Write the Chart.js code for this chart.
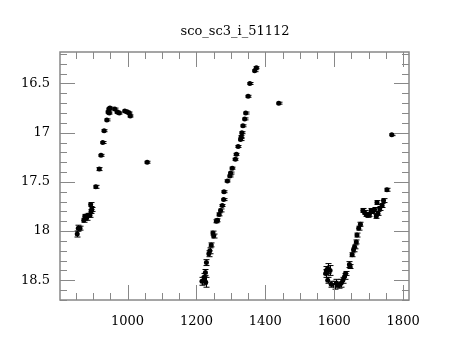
<!DOCTYPE html>
<html lang="en">
<head>
    <meta charset="UTF-8">
    <title>sco_sc3_i_51112</title>
    <script src="https://cdn.jsdelivr.net/npm/chart.js@4.4.1/dist/chart.umd.min.js"></script>
    <style>
        body { margin: 0; background: #fff; }
    </style>
</head>
<body>
    <canvas id="lc" width="460" height="340"></canvas>
    <script>
        // light curve: date, magnitude, error
        const jd = [854, 857, 862, 873, 876, 881, 886, 891, 894, 896, 893, 908, 918, 923, 928, 932, 940, 944, 946, 949, 947, 963, 970, 976, 992, 999, 1005, 1008, 1057,
            1216, 1221, 1223, 1226, 1227, 1229, 1236, 1239, 1243, 1248, 1250, 1258, 1261, 1266, 1270, 1275, 1279, 1280, 1290, 1297, 1299, 1304, 1313, 1316, 1321, 1328, 1330, 1332, 1335, 1340, 1343, 1350, 1355, 1369, 1374, 1439,
            1575, 1577, 1581, 1581, 1588, 1591, 1601, 1606, 1613, 1620, 1625, 1630, 1633, 1644, 1646, 1652, 1656, 1659, 1664, 1666, 1671, 1676, 1683, 1688, 1693, 1697, 1702, 1707, 1712, 1717, 1722, 1724, 1727, 1732, 1739, 1743, 1753, 1767];
        const mag = [18.03, 17.97, 17.97, 17.89, 17.85, 17.87, 17.84, 17.84, 17.80, 17.78, 17.73, 17.55, 17.37, 17.23, 17.10, 16.98, 16.87, 16.79, 16.76, 16.75, 16.80, 16.76, 16.79, 16.80, 16.78, 16.79, 16.80, 16.83, 17.30,
            18.51, 18.50, 18.47, 18.42, 18.52, 18.32, 18.23, 18.20, 18.14, 18.02, 18.05, 17.90, 17.89, 17.83, 17.79, 17.74, 17.68, 17.60, 17.49, 17.44, 17.41, 17.36, 17.27, 17.22, 17.14, 17.07, 17.04, 17.00, 16.93, 16.86, 16.80, 16.63, 16.50, 16.37, 16.34, 16.70,
            18.43, 18.40, 18.38, 18.50, 18.40, 18.54, 18.55, 18.53, 18.55, 18.53, 18.50, 18.46, 18.43, 18.34, 18.36, 18.24, 18.19, 18.16, 18.11, 18.04, 17.97, 17.93, 17.79, 17.81, 17.83, 17.84, 17.83, 17.79, 17.80, 17.78, 17.85, 17.71, 17.82, 17.77, 17.74, 17.69, 17.58, 17.02];
        const err = [0.03, 0.03, 0.02, 0.02, 0.02, 0.02, 0.02, 0.02, 0.02, 0.02, 0.02, 0.015, 0.015, 0.01, 0.01, 0.01, 0.01, 0.01, 0.01, 0.01, 0.01, 0.01, 0.01, 0.01, 0.01, 0.01, 0.01, 0.01, 0.01,
            0.04, 0.04, 0.04, 0.03, 0.05, 0.03, 0.03, 0.03, 0.02, 0.02, 0.02, 0.015, 0.015, 0.015, 0.015, 0.01, 0.01, 0.01, 0.01, 0.01, 0.01, 0.01, 0.01, 0.01, 0.01, 0.01, 0.01, 0.01, 0.01, 0.01, 0.01, 0.01, 0.01, 0.01, 0.01, 0.01,
            0.04, 0.04, 0.05, 0.03, 0.05, 0.03, 0.04, 0.04, 0.03, 0.04, 0.03, 0.03, 0.02, 0.03, 0.02, 0.02, 0.02, 0.02, 0.02, 0.02, 0.02, 0.02, 0.02, 0.02, 0.02, 0.02, 0.02, 0.02, 0.02, 0.02, 0.02, 0.02, 0.02, 0.02, 0.02, 0.02, 0.015, 0.01];

        const xTicks = [1000, 1200, 1400, 1600, 1800];
        const yTicks = [16.5, 17, 17.5, 18, 18.5];
        const title = 'sco_sc3_i_51112';

        const points = jd.map((x, i) => ({ x: x, y: mag[i], e: err[i] }));
        const serif = "'DejaVu Serif', 'Liberation Serif', serif";

        // error bars, title and inward tick frame, drawn through the chart scales
        const frame = {
            id: 'frame',
            beforeDatasetsDraw(chart) {
                const c = chart.ctx, xs = chart.scales.x, ys = chart.scales.y;
                c.save();
                c.strokeStyle = '#000';
                c.lineWidth = 1;
                points.forEach(p => {
                    const px = Math.round(xs.getPixelForValue(p.x)) + 0.5;
                    const y1 = ys.getPixelForValue(p.y - p.e);
                    const y2 = ys.getPixelForValue(p.y + p.e);
                    c.beginPath();
                    c.moveTo(px, y1); c.lineTo(px, y2);
                    c.moveTo(px - 3, y1); c.lineTo(px + 3, y1);
                    c.moveTo(px - 3, y2); c.lineTo(px + 3, y2);
                    c.stroke();
                });
                c.restore();
            },
            afterDraw(chart) {
                const c = chart.ctx, a = chart.chartArea, xs = chart.scales.x, ys = chart.scales.y;
                c.save();
                c.fillStyle = '#000';
                c.font = '13px ' + serif;
                c.textAlign = 'center';
                c.textBaseline = 'middle';
                c.fillText(title, 235, 32);

                c.strokeStyle = '#888';
                c.lineWidth = 1.5;
                c.strokeRect(a.left, a.top, a.right - a.left, a.bottom - a.top);
                c.lineWidth = 1;
                c.beginPath();
                for (let v = 850; v <= 1800; v += 50) {
                    const px = Math.round(xs.getPixelForValue(v)) + 0.5;
                    const len = v % 200 === 0 ? 15 : 7;
                    c.moveTo(px, a.bottom); c.lineTo(px, a.bottom - len);
                    c.moveTo(px, a.top); c.lineTo(px, a.top + len);
                }
                for (let k = 162; k <= 187; k++) {
                    const v = k / 10;
                    const py = Math.round(ys.getPixelForValue(v)) + 0.5;
                    const len = k % 5 === 0 ? 15 : 7;
                    c.moveTo(a.left, py); c.lineTo(a.left + len, py);
                    c.moveTo(a.right, py); c.lineTo(a.right - len, py);
                }
                c.stroke();
                c.restore();
            }
        };

        new Chart(document.getElementById('lc'), {
            type: 'scatter',
            data: {
                datasets: [{
                    data: points,
                    backgroundColor: '#000',
                    borderColor: '#000',
                    borderWidth: 0,
                    pointRadius: 2.5,
                    pointHoverRadius: 2.5
                }]
            },
            options: {
                responsive: false,
                animation: false,
                layout: { padding: { left: 0, right: 51, top: 52, bottom: 0 } },
                plugins: {
                    legend: { display: false },
                    tooltip: { enabled: false },
                    title: { display: false }
                },
                scales: {
                    x: {
                        type: 'linear',
                        min: 804,
                        max: 1817,
                        grid: { display: false, drawTicks: false },
                        border: { display: false },
                        afterBuildTicks: s => { s.ticks = xTicks.map(v => ({ value: v })); },
                        afterFit: s => { s.height = 40; },
                        ticks: {
                            color: '#000',
                            padding: 14,
                            maxRotation: 0,
                            font: { family: serif, size: 13 },
                            callback: v => String(v)
                        }
                    },
                    y: {
                        type: 'linear',
                        reverse: true,
                        min: 16.18,
                        max: 18.70,
                        grid: { display: false, drawTicks: false },
                        border: { display: false },
                        afterBuildTicks: s => { s.ticks = yTicks.map(v => ({ value: v })); },
                        afterFit: s => { s.width = 60; },
                        ticks: {
                            color: '#000',
                            padding: 10,
                            font: { family: serif, size: 13 },
                            callback: v => String(v)
                        }
                    }
                }
            },
            plugins: [frame]
        });
    </script>
</body>
</html>
